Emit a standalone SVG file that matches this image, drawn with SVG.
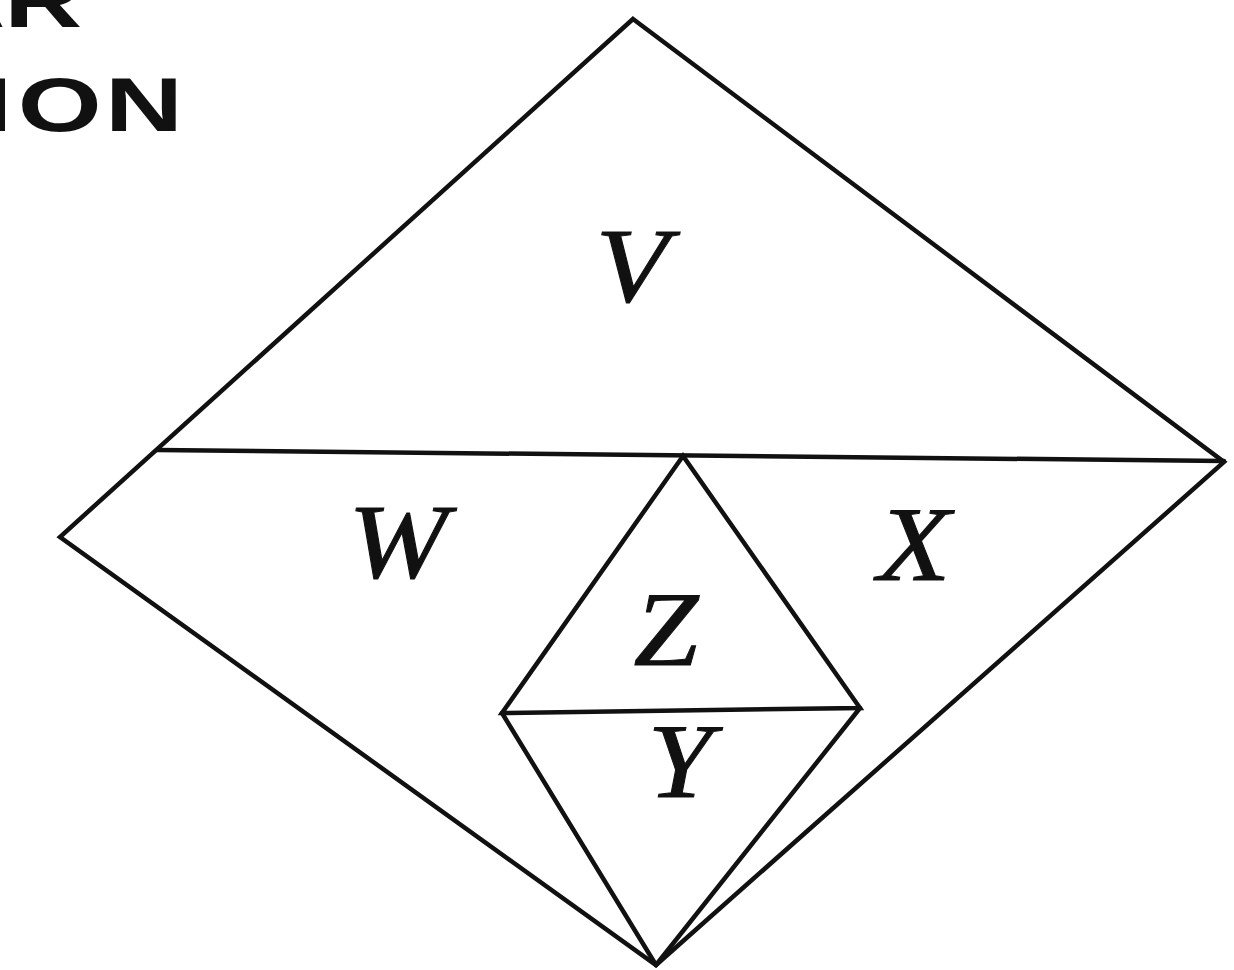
<svg xmlns="http://www.w3.org/2000/svg" width="1234" height="970" viewBox="0 0 1234 970">
<style>
.ln{fill:none;stroke:#111;stroke-width:4.5;stroke-linejoin:miter;stroke-linecap:round}
.lbl{font-family:"Liberation Serif","Times New Roman",serif;font-style:italic;font-size:106px;fill:#111;text-anchor:middle;stroke:#111;stroke-width:1}
.hd{font-family:"Liberation Sans",Arial,sans-serif;font-weight:bold;font-size:76px;fill:#111}
</style>
<rect width="1234" height="970" fill="#fff"/>
<g id="heading">
<text class="hd" transform="translate(0,27) scale(1.42,1)" x="-51 3">AR</text>
<text class="hd" transform="translate(0,131) scale(1.42,1)" x="-12.5 12.5 74">ION</text>
</g>
<g id="connectors">
<polygon class="ln" points="633,19 1224,462 656,965 60,537"/>
<line class="ln" x1="157" y1="450" x2="1224" y2="461"/>
<polygon class="ln" points="683,456 502,713 860,708"/>
<line class="ln" x1="502" y1="713" x2="656" y2="965"/>
<line class="ln" x1="860" y1="708" x2="656" y2="965"/>
</g>
<g id="V"><text class="lbl" transform="translate(632,301) scale(1.13,1)">V</text></g>
<g id="W"><text class="lbl" transform="translate(398,577) scale(1.13,1)">W</text></g>
<g id="X"><text class="lbl" transform="translate(914,580) scale(1.13,1)">X</text></g>
<g id="Z"><text class="lbl" transform="translate(666,665) scale(1.1,1)">Z</text></g>
<g id="Y"><text class="lbl" transform="translate(680,797) scale(1.1,1)">Y</text></g>
</svg>
